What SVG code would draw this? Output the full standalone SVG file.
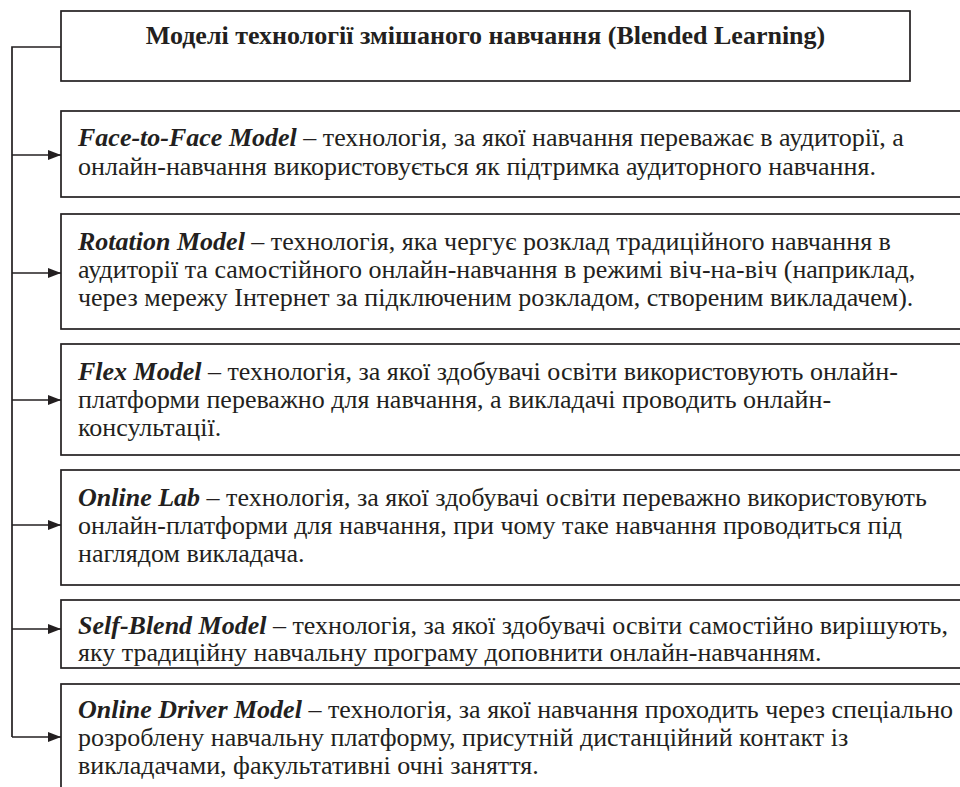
<svg xmlns="http://www.w3.org/2000/svg" width="960" height="787" viewBox="0 0 960 787">
<defs>
<style>
.box{fill:#fff;stroke:#231f20;stroke-width:1.7}
.t{font-family:"Liberation Serif","Times New Roman",serif;font-size:26px;fill:#231f20}
.h{font-family:"Liberation Serif","Times New Roman",serif;font-size:26px;font-weight:bold;fill:#231f20}
.b{font-weight:bold;font-style:italic}
.c{fill:none;stroke:#231f20;stroke-width:1.7}
</style>
<marker id="ah" markerWidth="14" markerHeight="10" refX="13" refY="5" orient="auto" markerUnits="userSpaceOnUse">
<path d="M0,0 L13,5 L0,10 Z" fill="#231f20"/>
</marker>
</defs>
<rect width="960" height="787" fill="#fff"/>
<g id="connectors">
<path class="c" d="M61,47 H12 V737"/>
<line class="c" x1="12" y1="155" x2="61" y2="155" marker-end="url(#ah)"/>
<line class="c" x1="12" y1="273" x2="61" y2="273" marker-end="url(#ah)"/>
<line class="c" x1="12" y1="400" x2="61" y2="400" marker-end="url(#ah)"/>
<line class="c" x1="12" y1="525" x2="61" y2="525" marker-end="url(#ah)"/>
<line class="c" x1="12" y1="629" x2="61" y2="629" marker-end="url(#ah)"/>
<line class="c" x1="12" y1="737" x2="61" y2="737" marker-end="url(#ah)"/>
</g>
<g id="title">
<rect class="box" x="61" y="11" width="849" height="70"/>
<text class="h" x="485.5" y="44" text-anchor="middle">Моделі технології змішаного навчання (Blended Learning)</text>
</g>
<g id="face">
<rect class="box" x="61" y="111" width="920" height="86"/>
<text class="t" x="78" y="146"><tspan class="b">Face-to-Face Model</tspan> – технологія, за якої навчання переважає в аудиторії, а</text>
<text class="t" x="78" y="175">онлайн-навчання використовується як підтримка аудиторного навчання.</text>
</g>
<g id="rotation">
<rect class="box" x="61" y="214" width="920" height="115"/>
<text class="t" x="78" y="250"><tspan class="b">Rotation Model</tspan> – технологія, яка чергує розклад традиційного навчання в</text>
<text class="t" x="78" y="278">аудиторії та самостійного онлайн-навчання в режимі віч-на-віч (наприклад,</text>
<text class="t" x="78" y="306">через мережу Інтернет за підключеним розкладом, створеним викладачем).</text>
</g>
<g id="flex">
<rect class="box" x="61" y="344" width="920" height="111"/>
<text class="t" x="78" y="380"><tspan class="b">Flex Model</tspan> – технологія, за якої здобувачі освіти використовують онлайн-</text>
<text class="t" x="78" y="408">платформи переважно для навчання, а викладачі проводить онлайн-</text>
<text class="t" x="78" y="436">консультації.</text>
</g>
<g id="onlinelab">
<rect class="box" x="61" y="470" width="920" height="115"/>
<text class="t" x="78" y="506"><tspan class="b">Online Lab</tspan> – технологія, за якої здобувачі освіти переважно використовують</text>
<text class="t" x="78" y="534">онлайн-платформи для навчання, при чому таке навчання проводиться під</text>
<text class="t" x="78" y="562">наглядом викладача.</text>
</g>
<g id="selfblend">
<rect class="box" x="61" y="600" width="920" height="68"/>
<text class="t" x="78" y="634"><tspan class="b">Self-Blend Model</tspan> – технологія, за якої здобувачі освіти самостійно вирішують,</text>
<text class="t" x="78" y="661">яку традиційну навчальну програму доповнити онлайн-навчанням.</text>
</g>
<g id="driver">
<rect class="box" x="61" y="684" width="920" height="130"/>
<text class="t" x="78" y="718"><tspan class="b">Online Driver Model</tspan> – технологія, за якої навчання проходить через спеціально</text>
<text class="t" x="78" y="746">розроблену навчальну платформу, присутній дистанційний контакт із</text>
<text class="t" x="78" y="774">викладачами, факультативні очні заняття.</text>
</g>
</svg>
